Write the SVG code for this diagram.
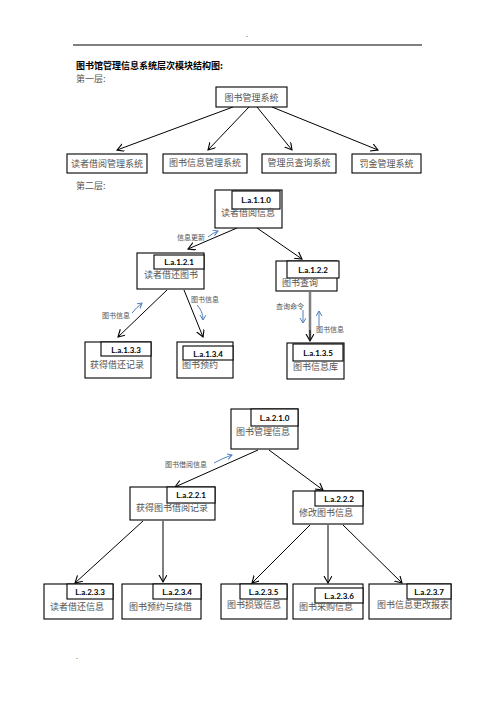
<svg xmlns="http://www.w3.org/2000/svg" width="496" height="702" viewBox="0 0 496 702">
<defs>
<marker id="ah" markerUnits="userSpaceOnUse" markerWidth="10" markerHeight="10" refX="7" refY="4" orient="auto">
<path d="M0,0 L7,4 L0,8" fill="none" stroke="#000" stroke-width="1.1"/>
</marker>
<marker id="bh" markerUnits="userSpaceOnUse" markerWidth="8" markerHeight="8" refX="5" refY="3" orient="auto">
<path d="M0,0 L5,3 L0,6" fill="none" stroke="#4f81bd" stroke-width="1"/>
</marker>
</defs>
<style>
.bx{fill:#fff;stroke:#000;stroke-width:1.1}
.lb{fill:#fff;stroke:#000;stroke-width:1.1}
.t{font-family:"Noto Sans CJK SC",sans-serif;font-size:9px;fill:#555}
.s{font-family:"Noto Sans CJK SC",sans-serif;font-size:7px;fill:#555}
.c{font-family:Lato,"Liberation Sans",sans-serif;font-size:8px;font-weight:bold;fill:#000}
.ln{stroke:#000;stroke-width:1;fill:none;marker-end:url(#ah)}
.bl{stroke:#4f81bd;stroke-width:1;fill:none;marker-end:url(#bh)}
</style>
<rect width="496" height="702" fill="#fff"/>
<!-- header/footer -->
<line x1="73" y1="45" x2="422" y2="45" stroke="#000" stroke-width="1"/>
<text x="247" y="38" class="s" text-anchor="middle">-</text>
<text x="76" y="659" class="s">.</text>
<text x="76" y="69" font-family="'Noto Sans CJK SC',sans-serif" font-size="9" font-weight="bold" fill="#000">图书馆管理信息系统层次模块结构图:</text>
<text x="76" y="82" class="t">第一层:</text>
<text x="76" y="189" class="t">第二层:</text>

<g id="connectors">
<line class="ln" x1="233" y1="107" x2="117" y2="150"/>
<line class="ln" x1="249" y1="107" x2="208" y2="150"/>
<line class="ln" x1="257" y1="107" x2="292" y2="150"/>
<line class="ln" x1="272" y1="107" x2="378" y2="150"/>

<line class="ln" x1="237" y1="228" x2="188" y2="249"/>
<line class="ln" x1="257" y1="228" x2="302" y2="259"/>
<line class="ln" x1="167" y1="290" x2="118" y2="337"/>
<line class="ln" x1="184" y1="290" x2="203" y2="337"/>
<line x1="310" y1="292" x2="310" y2="339" stroke="#7f7f7f" stroke-width="2.5"/>
<line class="ln" x1="310" y1="330" x2="310" y2="341"/>

<line class="ln" x1="258" y1="450" x2="175" y2="487"/>
<line class="ln" x1="269" y1="450" x2="323" y2="490"/>
<line class="ln" x1="143" y1="521" x2="75" y2="583"/>
<line class="ln" x1="163" y1="521" x2="163" y2="582"/>
<line class="ln" x1="310" y1="525" x2="252" y2="583"/>
<line class="ln" x1="328" y1="525" x2="328" y2="583"/>
<line class="ln" x1="343" y1="525" x2="402" y2="583"/>

<path class="bl" d="M208,237 Q213,233 218,231"/>
<path class="bl" d="M132,313 Q137,307 142,303"/>
<path class="bl" d="M197,305 Q203,311 203,320"/>
<path class="bl" d="M303,310 L303,323"/>
<path class="bl" d="M319,326 L319,311"/>
<path class="bl" d="M214,463 Q223,458 232,455"/>
<text x="177" y="240" class="s">信息更新</text>
<text x="102" y="318" class="s">图书信息</text>
<text x="191" y="302" class="s">图书信息</text>
<text x="276" y="309" class="s">查询命令</text>
<text x="316" y="332" class="s">图书信息</text>
<text x="165" y="467" class="s">图书借阅信息</text>
</g>

<g id="n-root"><rect class="bx" x="216" y="87" width="71" height="20"/><text class="t" x="251.5" y="100.5" text-anchor="middle">图书管理系统</text></g>
<g id="n-l1a"><rect class="bx" x="67" y="154" width="80" height="19"/><text class="t" x="107" y="167" text-anchor="middle">读者借阅管理系统</text></g>
<g id="n-l1b"><rect class="bx" x="163" y="154" width="84" height="19"/><text class="t" x="205" y="166" text-anchor="middle">图书信息管理系统</text></g>
<g id="n-l1c"><rect class="bx" x="262" y="154" width="74" height="19"/><text class="t" x="299" y="166" text-anchor="middle">管理员查询系统</text></g>
<g id="n-l1d"><rect class="bx" x="352" y="154" width="69" height="19"/><text class="t" x="386.5" y="167" text-anchor="middle">罚金管理系统</text></g>

<g id="n-110"><rect class="bx" x="215" y="190" width="67" height="38"/><rect class="lb" x="232" y="191" width="48" height="18"/><text class="c" x="256" y="203" text-anchor="middle">L.a.1.1.0</text><text class="t" x="221" y="216">读者借阅信息</text></g>
<g id="n-121"><rect class="bx" x="137" y="253" width="67" height="36"/><rect class="lb" x="154" y="255" width="50" height="14"/><text class="c" x="179" y="265" text-anchor="middle">L.a.1.2.1</text><text class="t" x="144" y="278">读者借还图书</text></g>
<g id="n-122"><rect class="bx" x="276" y="261" width="61" height="30"/><rect class="lb" x="287" y="261" width="52" height="17"/><text class="c" x="313" y="272.5" text-anchor="middle">L.a.1.2.2</text><text class="t" x="282" y="286">图书查询</text></g>
<g id="n-133"><rect class="bx" x="85" y="342" width="66" height="36"/><rect class="lb" x="101" y="342" width="50" height="14"/><text class="c" x="126" y="352.5" text-anchor="middle">L.a.1.3.3</text><text class="t" x="90" y="368">获得借还记录</text></g>
<g id="n-134"><rect class="bx" x="177" y="342" width="56" height="36"/><rect class="lb" x="183" y="346" width="50" height="14"/><text class="c" x="208" y="356.5" text-anchor="middle">L.a.1.3.4</text><text class="t" x="182" y="368">图书预约</text></g>
<g id="n-135"><rect class="bx" x="287" y="343" width="57" height="36"/><rect class="lb" x="293" y="344" width="50" height="17"/><text class="c" x="318" y="356" text-anchor="middle">L.a.1.3.5</text><text class="t" x="293" y="370">图书信息库</text></g>

<g id="n-210"><rect class="bx" x="231" y="409" width="67" height="40"/><rect class="lb" x="251" y="409" width="47" height="17"/><text class="c" x="274.5" y="420.5" text-anchor="middle">L.a.2.1.0</text><text class="t" x="236" y="435">图书管理信息</text></g>
<g id="n-221"><rect class="bx" x="130" y="487" width="85" height="33"/><rect class="lb" x="167" y="487" width="48" height="16"/><text class="c" x="191" y="498" text-anchor="middle">L.a.2.2.1</text><text class="t" x="136" y="511">获得图书借阅记录</text></g>
<g id="n-222"><rect class="bx" x="293" y="491" width="70" height="33"/><rect class="lb" x="315" y="491" width="48" height="15"/><text class="c" x="339" y="501.5" text-anchor="middle">L.a.2.2.2</text><text class="t" x="299" y="516">修改图书信息</text></g>
<g id="n-233"><rect class="bx" x="44" y="584" width="69" height="35"/><rect class="lb" x="67" y="584" width="46" height="15"/><text class="c" x="90" y="595" text-anchor="middle">L.a.2.3.3</text><text class="t" x="50" y="610">读者借还信息</text></g>
<g id="n-234"><rect class="bx" x="122" y="584" width="79" height="35"/><rect class="lb" x="153" y="584" width="48" height="15"/><text class="c" x="177" y="595" text-anchor="middle">L.a.2.3.4</text><text class="t" x="129" y="610">图书预约与续借</text></g>
<g id="n-235"><rect class="bx" x="221" y="584" width="66" height="35"/><rect class="lb" x="240" y="584" width="47" height="15"/><text class="c" x="263.5" y="595" text-anchor="middle">L.a.2.3.5</text><text class="t" x="227" y="608">图书损毁信息</text></g>
<g id="n-236"><rect class="bx" x="293" y="584" width="70" height="35"/><rect class="lb" x="315" y="588" width="48" height="15"/><text class="c" x="339" y="599" text-anchor="middle">L.a.2.3.6</text><text class="t" x="299" y="610">图书采购信息</text></g>
<g id="n-237"><rect class="bx" x="369" y="584" width="82" height="35"/><rect class="lb" x="407" y="584" width="44" height="15"/><text class="c" x="429" y="595" text-anchor="middle">L.a.2.3.7</text><text class="t" x="377" y="608">图书信息更改报表</text></g>
</svg>
